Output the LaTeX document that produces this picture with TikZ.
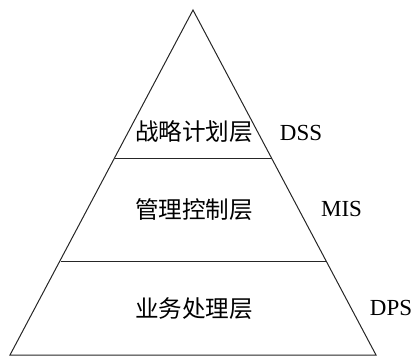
\documentclass[tikz,border=0pt]{standalone}
\usepackage{fontspec}
\setmainfont{Liberation Serif}
\newfontfamily\cjk{Noto Sans CJK SC}
\begin{document}
\begin{tikzpicture}[x=1pt,y=-1pt,
  edge/.style={draw=black!85, line width=1pt, line join=miter},
  layer/.style={font=\cjk\fontsize{23.6}{24}\selectfont, inner sep=0pt},
  sys/.style={font=\fontsize{23}{23}\selectfont, inner sep=0pt}]
\useasboundingbox (0,0) rectangle (415,357);
\coordinate (apex) at (193,10);
\coordinate (bl) at (10,355);
\coordinate (br) at (376,355);
\coordinate (l1) at (114.5,158);
\coordinate (r1) at (271.5,158);
\coordinate (l2) at (60.5,261);
\coordinate (r2) at (325.5,261);
\draw[edge] (apex) -- (br) -- (bl) -- cycle;
\draw[edge] (l1) -- (r1);
\draw[edge] (l2) -- (r2);
\node[layer] (t1) at (194,132) {战略计划层};
\node[layer] (t2) at (194,210) {管理控制层};
\node[layer] (t3) at (194,309) {业务处理层};
\node[sys] (s1) at (301,133) {DSS};
\node[sys] (s2) at (341.5,209) {MIS};
\node[sys] (s3) at (391,308) {DPS};
\end{tikzpicture}
\end{document}
